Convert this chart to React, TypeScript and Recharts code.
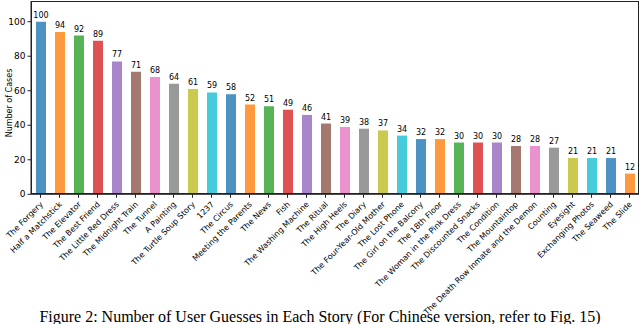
import React from "react";
import { BarChart, Bar, XAxis, YAxis, Cell, LabelList } from "recharts";

const stories = [
  "The Forgery", "Half a Matchstick", "The Elevator", "The Best Friend", "The Little Red Dress",
  "The Midnight Train", "The Tunnel", "A Painting", "The Turtle Soup Story", "1237",
  "The Circus", "Meeting the Parents", "The News", "Fish", "The Washing Machine",
  "The Ritual", "The High Heels", "The Diary", "The Four-Year-Old Mother", "The Lost Phone",
  "The Girl on the Balcony", "The 18th Floor", "The Woman in the Pink Dress", "The Discounted Snacks", "The Condition",
  "The Mountaintop", "The Death Row Inmate and the Demon", "Counting", "Eyesight", "Exchanging Photos",
  "The Seaweed", "The Slide",
];
const cases = [
  100, 94, 92, 89, 77, 71, 68, 64, 61, 59,
  58, 52, 51, 49, 46, 41, 39, 38, 37, 34,
  32, 32, 30, 30, 30, 28, 28, 27, 21, 21,
  21, 12,
];
const palette = [
  "#1f77b4", "#ff7f0e", "#2ca02c", "#d62728", "#9467bd",
  "#8c564b", "#e377c2", "#7f7f7f", "#bcbd22", "#17becf",
];
const yTicks = [0, 20, 40, 60, 80, 100];

const data = stories.map((s, i) => ({ name: s, value: cases[i] }));

const FONT = "'DejaVu Sans', sans-serif";

const XTick = (props: any) => {
  const { x, y, payload } = props;
  return (
    <text
      x={x + 3}
      y={y + 5}
      transform={`rotate(-45, ${x + 3}, ${y + 5})`}
      textAnchor="end"
      fontSize={8}
      fontFamily={FONT}
      fill="#000"
    >
      {payload.value}
    </text>
  );
};

const YLabel = () => (
  <text
    x={9}
    y={103}
    transform="rotate(-90, 9, 103)"
    textAnchor="middle"
    dominantBaseline="central"
    fontSize={8}
    fontFamily={FONT}
    fill="#000"
  >
    Number of Cases
  </text>
);

export default function App() {
  return (
    <div style={{ position: "absolute", left: 0, top: 0, width: 640, height: 324, background: "#fff", overflow: "hidden" }}>
      <BarChart
        width={640}
        height={324}
        data={data}
        margin={{ top: 1, right: 1, left: 0, bottom: 0 }}
      >
        <XAxis
          dataKey="name"
          interval={0}
          tick={<XTick />}
          tickSize={3.5}
          height={129.7}
          stroke="#222"
          tickLine={{ stroke: "#222" }}
        />
        <YAxis
          domain={[0, 112]}
          ticks={yTicks}
          width={31}
          tickSize={3.5}
          stroke="#222"
          tick={{ fontSize: 9, fontFamily: FONT, fill: "#000" }}
          label={<YLabel />}
        />
        <Bar dataKey="value" barSize={10} isAnimationActive={false}>
          {data.map((d, i) => (
            <Cell key={d.name} fill={palette[i % palette.length]} fillOpacity={0.8} />
          ))}
          <LabelList
            dataKey="value"
            position="top"
            offset={4}
            style={{ fontSize: 8, fontFamily: FONT, fill: "#000" }}
          />
        </Bar>
      </BarChart>
      <div
        style={{
          position: "absolute",
          left: 31,
          top: 1,
          width: 608,
          height: 193.3,
          boxSizing: "border-box",
          border: "1px solid #222",
          pointerEvents: "none",
        }}
      />
      <div
        style={{
          position: "absolute",
          left: 0,
          top: 307,
          width: 640,
          textAlign: "center",
          fontFamily: "'Liberation Serif', 'Times New Roman', serif",
          fontSize: 16,
          lineHeight: "19px",
          color: "#000",
          whiteSpace: "nowrap",
        }}
      >
        Figure 2: Number of User Guesses in Each Story (For Chinese version, refer to Fig. 15)
      </div>
    </div>
  );
}
